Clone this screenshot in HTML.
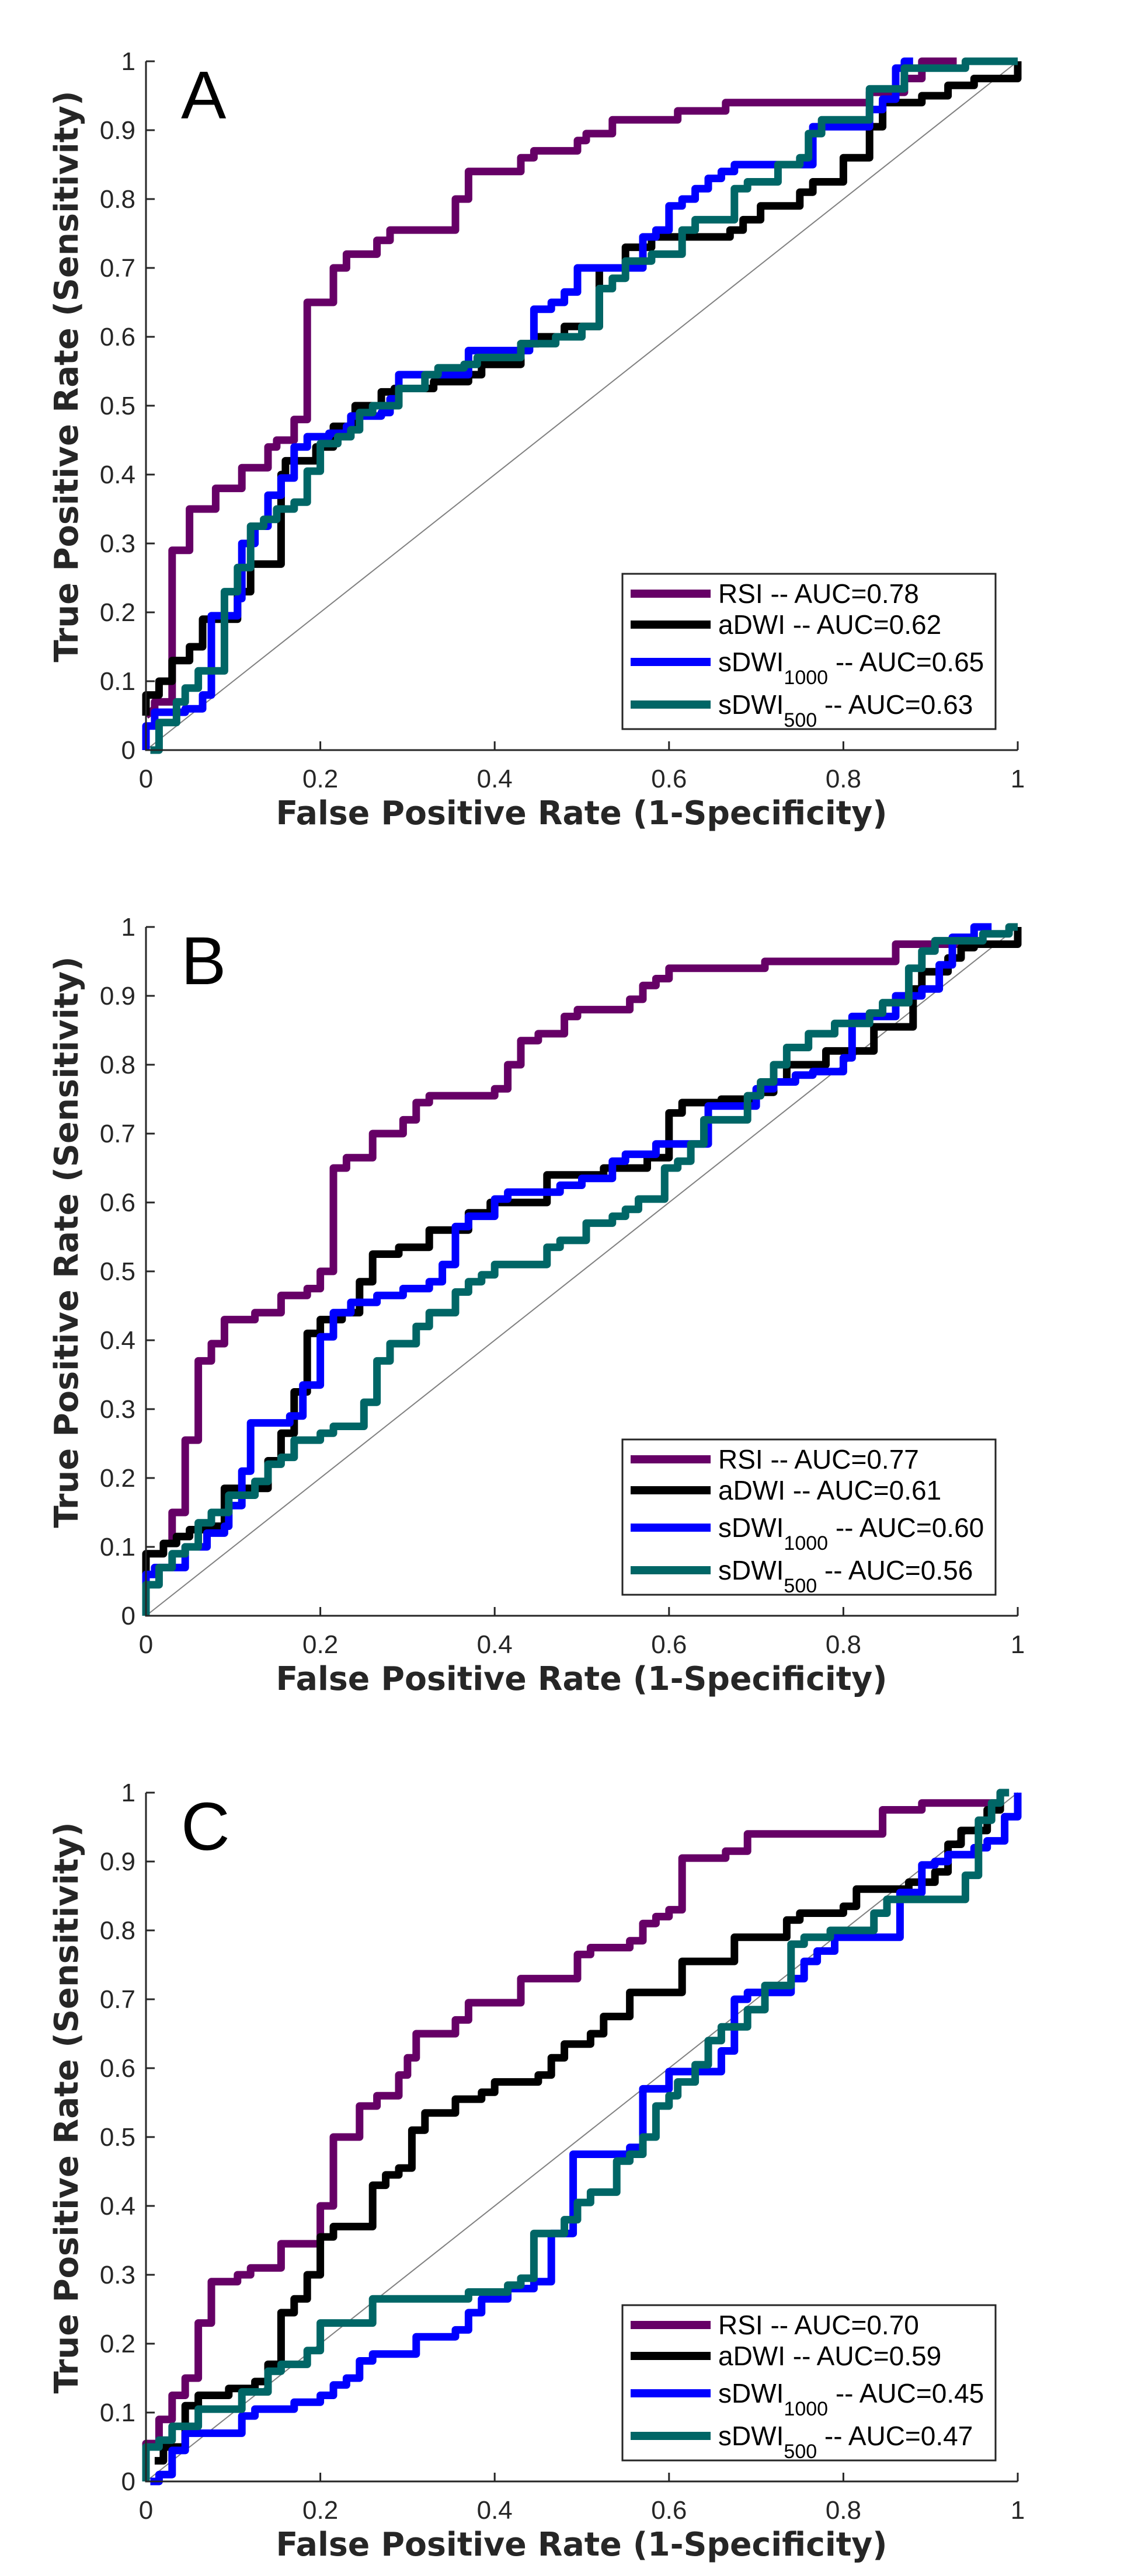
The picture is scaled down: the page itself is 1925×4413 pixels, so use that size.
<!DOCTYPE html>
<html><head><meta charset="utf-8"><style>
html,body{margin:0;padding:0;background:#fff}
svg{display:block}
</style></head><body>
<svg id="fig" width="1925" height="4413" viewBox="0 0 1925 4413" xmlns="http://www.w3.org/2000/svg"></svg>
<script>
const panelLetters = ["A","B","C"];
const seriesNames = ["RSI","aDWI","sDWI","sDWI"];
const seriesSubs = ["","","1000","500"];
const aucA = ["0.78","0.62","0.65","0.63"];
const aucB = ["0.77","0.61","0.60","0.56"];
const aucC = ["0.70","0.59","0.45","0.47"];
const yTicks = [0,0.1,0.2,0.3,0.4,0.5,0.6,0.7,0.8,0.9,1];
const yTickLabels = ["0","0.1","0.2","0.3","0.4","0.5","0.6","0.7","0.8","0.9","1"];
const xTicks = [0,0.2,0.4,0.6,0.8,1];
const xTickLabels = ["0","0.2","0.4","0.6","0.8","1"];

const aRSI = [[0,0.05],[0.01,0.06],[0.01,0.07],[0.03,0.07],[0.03,0.29],[0.05,0.29],[0.05,0.35],[0.08,0.35],[0.08,0.38],[0.11,0.38],[0.11,0.41],[0.14,0.41],[0.14,0.44],[0.15,0.44],[0.15,0.45],[0.17,0.45],[0.17,0.48],[0.185,0.48],[0.185,0.65],[0.215,0.65],[0.215,0.70],[0.23,0.70],[0.23,0.72],[0.265,0.72],[0.265,0.74],[0.28,0.74],[0.28,0.755],[0.355,0.755],[0.355,0.80],[0.37,0.80],[0.37,0.84],[0.43,0.84],[0.43,0.86],[0.445,0.86],[0.445,0.87],[0.495,0.87],[0.495,0.885],[0.505,0.885],[0.505,0.895],[0.535,0.895],[0.535,0.915],[0.61,0.915],[0.61,0.928],[0.665,0.928],[0.665,0.94],[0.83,0.94],[0.83,0.955],[0.87,0.955],[0.87,0.975],[0.89,0.975],[0.89,1],[0.93,1]];
const aADWI = [[0,0.05],[0,0.08],[0.015,0.08],[0.015,0.10],[0.03,0.10],[0.03,0.13],[0.05,0.13],[0.05,0.15],[0.065,0.15],[0.065,0.19],[0.105,0.19],[0.105,0.23],[0.12,0.23],[0.12,0.27],[0.155,0.27],[0.155,0.40],[0.16,0.40],[0.16,0.42],[0.195,0.42],[0.195,0.44],[0.215,0.44],[0.215,0.47],[0.24,0.47],[0.24,0.50],[0.27,0.50],[0.27,0.52],[0.285,0.52],[0.285,0.525],[0.33,0.525],[0.33,0.535],[0.37,0.535],[0.37,0.545],[0.385,0.545],[0.385,0.56],[0.43,0.56],[0.43,0.59],[0.45,0.59],[0.45,0.60],[0.48,0.60],[0.48,0.615],[0.52,0.615],[0.52,0.70],[0.55,0.70],[0.55,0.73],[0.58,0.73],[0.58,0.745],[0.67,0.745],[0.67,0.755],[0.685,0.755],[0.685,0.77],[0.705,0.77],[0.705,0.79],[0.75,0.79],[0.75,0.81],[0.765,0.81],[0.765,0.825],[0.8,0.825],[0.8,0.86],[0.83,0.86],[0.83,0.905],[0.845,0.905],[0.845,0.94],[0.89,0.94],[0.89,0.95],[0.92,0.95],[0.92,0.965],[0.95,0.965],[0.95,0.975],[1,0.975],[1,1]];
const aS1000 = [[0,0],[0,0.035],[0.01,0.035],[0.01,0.055],[0.045,0.055],[0.045,0.06],[0.065,0.06],[0.065,0.08],[0.075,0.08],[0.075,0.195],[0.105,0.195],[0.105,0.22],[0.11,0.22],[0.11,0.30],[0.125,0.30],[0.125,0.325],[0.14,0.325],[0.14,0.37],[0.155,0.37],[0.155,0.395],[0.17,0.395],[0.17,0.44],[0.185,0.44],[0.185,0.455],[0.21,0.455],[0.21,0.46],[0.23,0.46],[0.23,0.47],[0.235,0.47],[0.235,0.485],[0.27,0.485],[0.27,0.49],[0.28,0.49],[0.28,0.51],[0.29,0.51],[0.29,0.545],[0.37,0.545],[0.37,0.58],[0.44,0.58],[0.44,0.59],[0.445,0.59],[0.445,0.64],[0.465,0.64],[0.465,0.65],[0.48,0.65],[0.48,0.665],[0.495,0.665],[0.495,0.70],[0.57,0.70],[0.57,0.745],[0.585,0.745],[0.585,0.755],[0.6,0.755],[0.6,0.79],[0.615,0.79],[0.615,0.80],[0.63,0.80],[0.63,0.815],[0.645,0.815],[0.645,0.83],[0.66,0.83],[0.66,0.84],[0.675,0.84],[0.675,0.85],[0.765,0.85],[0.765,0.905],[0.83,0.905],[0.83,0.93],[0.845,0.93],[0.845,0.945],[0.86,0.945],[0.86,0.99],[0.87,0.99],[0.87,1],[0.88,1]];
const aS500 = [[0.005,0],[0.015,0],[0.015,0.04],[0.035,0.04],[0.035,0.07],[0.045,0.07],[0.045,0.09],[0.06,0.09],[0.06,0.115],[0.09,0.115],[0.09,0.23],[0.105,0.23],[0.105,0.265],[0.12,0.265],[0.12,0.325],[0.135,0.325],[0.135,0.335],[0.15,0.335],[0.15,0.35],[0.17,0.35],[0.17,0.36],[0.185,0.36],[0.185,0.405],[0.2,0.405],[0.2,0.445],[0.22,0.445],[0.22,0.455],[0.235,0.455],[0.235,0.465],[0.245,0.465],[0.245,0.49],[0.26,0.49],[0.26,0.50],[0.29,0.50],[0.29,0.525],[0.32,0.525],[0.32,0.545],[0.335,0.545],[0.335,0.555],[0.365,0.555],[0.365,0.56],[0.38,0.56],[0.38,0.57],[0.43,0.57],[0.43,0.59],[0.47,0.59],[0.47,0.60],[0.5,0.60],[0.5,0.615],[0.52,0.615],[0.52,0.67],[0.535,0.67],[0.535,0.685],[0.55,0.685],[0.55,0.71],[0.58,0.71],[0.58,0.72],[0.615,0.72],[0.615,0.755],[0.63,0.755],[0.63,0.77],[0.675,0.77],[0.675,0.815],[0.69,0.815],[0.69,0.825],[0.725,0.825],[0.725,0.85],[0.75,0.85],[0.75,0.86],[0.76,0.86],[0.76,0.895],[0.775,0.895],[0.775,0.915],[0.83,0.915],[0.83,0.96],[0.87,0.96],[0.87,0.99],[0.94,0.99],[0.94,1],[1,1]];

const bRSI = [[0.03,0.10],[0.03,0.15],[0.045,0.15],[0.045,0.255],[0.06,0.255],[0.06,0.37],[0.075,0.37],[0.075,0.395],[0.09,0.395],[0.09,0.43],[0.125,0.43],[0.125,0.44],[0.155,0.44],[0.155,0.465],[0.185,0.465],[0.185,0.475],[0.2,0.475],[0.2,0.50],[0.215,0.50],[0.215,0.65],[0.23,0.65],[0.23,0.665],[0.26,0.665],[0.26,0.70],[0.295,0.70],[0.295,0.72],[0.31,0.72],[0.31,0.745],[0.325,0.745],[0.325,0.755],[0.4,0.755],[0.4,0.765],[0.415,0.765],[0.415,0.80],[0.43,0.80],[0.43,0.835],[0.45,0.835],[0.45,0.845],[0.48,0.845],[0.48,0.87],[0.495,0.87],[0.495,0.88],[0.555,0.88],[0.555,0.895],[0.57,0.895],[0.57,0.915],[0.585,0.915],[0.585,0.925],[0.6,0.925],[0.6,0.94],[0.71,0.94],[0.71,0.95],[0.86,0.95],[0.86,0.975],[0.95,0.975]];
const bADWI = [[0,0.06],[0,0.09],[0.02,0.09],[0.02,0.105],[0.035,0.105],[0.035,0.115],[0.05,0.115],[0.05,0.125],[0.065,0.125],[0.065,0.13],[0.09,0.13],[0.09,0.185],[0.14,0.185],[0.14,0.225],[0.155,0.225],[0.155,0.265],[0.17,0.265],[0.17,0.325],[0.185,0.325],[0.185,0.41],[0.2,0.41],[0.2,0.43],[0.225,0.43],[0.225,0.44],[0.245,0.44],[0.245,0.485],[0.26,0.485],[0.26,0.525],[0.29,0.525],[0.29,0.535],[0.325,0.535],[0.325,0.56],[0.37,0.56],[0.37,0.585],[0.395,0.585],[0.395,0.60],[0.46,0.60],[0.46,0.64],[0.525,0.64],[0.525,0.65],[0.575,0.65],[0.575,0.665],[0.6,0.665],[0.6,0.73],[0.615,0.73],[0.615,0.745],[0.66,0.745],[0.66,0.75],[0.70,0.75],[0.70,0.76],[0.72,0.76],[0.72,0.775],[0.735,0.775],[0.735,0.8],[0.78,0.8],[0.78,0.82],[0.835,0.82],[0.835,0.855],[0.88,0.855],[0.88,0.91],[0.89,0.91],[0.89,0.935],[0.92,0.935],[0.92,0.955],[0.935,0.955],[0.935,0.97],[0.95,0.97],[0.95,0.975],[1,0.975],[1,1]];
const bS1000 = [[0,0],[0,0.06],[0.01,0.06],[0.01,0.07],[0.045,0.07],[0.045,0.10],[0.07,0.10],[0.07,0.12],[0.09,0.12],[0.09,0.13],[0.095,0.13],[0.095,0.16],[0.11,0.16],[0.11,0.21],[0.12,0.21],[0.12,0.28],[0.165,0.28],[0.165,0.29],[0.18,0.29],[0.18,0.335],[0.2,0.335],[0.2,0.405],[0.215,0.405],[0.215,0.44],[0.235,0.44],[0.235,0.455],[0.265,0.455],[0.265,0.465],[0.295,0.465],[0.295,0.475],[0.325,0.475],[0.325,0.485],[0.34,0.485],[0.34,0.51],[0.355,0.51],[0.355,0.565],[0.37,0.565],[0.37,0.58],[0.4,0.58],[0.4,0.605],[0.415,0.605],[0.415,0.615],[0.475,0.615],[0.475,0.625],[0.5,0.625],[0.5,0.635],[0.535,0.635],[0.535,0.66],[0.55,0.66],[0.55,0.67],[0.585,0.67],[0.585,0.685],[0.645,0.685],[0.645,0.74],[0.7,0.74],[0.7,0.765],[0.72,0.765],[0.72,0.775],[0.745,0.775],[0.745,0.785],[0.765,0.785],[0.765,0.79],[0.8,0.79],[0.8,0.81],[0.81,0.81],[0.81,0.87],[0.86,0.87],[0.86,0.9],[0.89,0.9],[0.89,0.91],[0.91,0.91],[0.91,0.945],[0.925,0.945],[0.925,0.985],[0.95,0.985],[0.95,1],[0.97,1]];
const bS500 = [[0,0],[0,0.045],[0.015,0.045],[0.015,0.07],[0.03,0.07],[0.03,0.09],[0.045,0.09],[0.045,0.10],[0.06,0.10],[0.06,0.135],[0.075,0.135],[0.075,0.15],[0.095,0.15],[0.095,0.175],[0.125,0.175],[0.125,0.195],[0.14,0.195],[0.14,0.22],[0.155,0.22],[0.155,0.23],[0.17,0.23],[0.17,0.255],[0.2,0.255],[0.2,0.265],[0.215,0.265],[0.215,0.275],[0.25,0.275],[0.25,0.31],[0.265,0.31],[0.265,0.37],[0.28,0.37],[0.28,0.395],[0.31,0.395],[0.31,0.42],[0.325,0.42],[0.325,0.44],[0.355,0.44],[0.355,0.47],[0.37,0.47],[0.37,0.485],[0.385,0.485],[0.385,0.495],[0.4,0.495],[0.4,0.51],[0.46,0.51],[0.46,0.535],[0.475,0.535],[0.475,0.545],[0.505,0.545],[0.505,0.57],[0.535,0.57],[0.535,0.58],[0.55,0.58],[0.55,0.59],[0.565,0.59],[0.565,0.605],[0.595,0.605],[0.595,0.65],[0.61,0.65],[0.61,0.66],[0.625,0.66],[0.625,0.685],[0.64,0.685],[0.64,0.72],[0.69,0.72],[0.69,0.755],[0.705,0.755],[0.705,0.775],[0.72,0.775],[0.72,0.80],[0.735,0.80],[0.735,0.825],[0.76,0.825],[0.76,0.845],[0.79,0.845],[0.79,0.86],[0.83,0.86],[0.83,0.875],[0.845,0.875],[0.845,0.89],[0.875,0.89],[0.875,0.94],[0.89,0.94],[0.89,0.965],[0.905,0.965],[0.905,0.98],[0.96,0.98],[0.96,0.99],[0.99,0.99],[0.99,1],[1,1]];

const cRSI = [[0,0.05],[0,0.055],[0.015,0.055],[0.015,0.09],[0.03,0.09],[0.03,0.125],[0.045,0.125],[0.045,0.15],[0.06,0.15],[0.06,0.23],[0.075,0.23],[0.075,0.29],[0.105,0.29],[0.105,0.30],[0.12,0.30],[0.12,0.31],[0.155,0.31],[0.155,0.345],[0.2,0.345],[0.2,0.40],[0.215,0.40],[0.215,0.50],[0.245,0.50],[0.245,0.545],[0.265,0.545],[0.265,0.56],[0.29,0.56],[0.29,0.59],[0.3,0.59],[0.3,0.615],[0.31,0.615],[0.31,0.65],[0.355,0.65],[0.355,0.67],[0.37,0.67],[0.37,0.695],[0.43,0.695],[0.43,0.73],[0.495,0.73],[0.495,0.765],[0.51,0.765],[0.51,0.775],[0.555,0.775],[0.555,0.785],[0.57,0.785],[0.57,0.81],[0.585,0.81],[0.585,0.82],[0.6,0.82],[0.6,0.83],[0.615,0.83],[0.615,0.905],[0.665,0.905],[0.665,0.915],[0.69,0.915],[0.69,0.94],[0.845,0.94],[0.845,0.975],[0.89,0.975],[0.89,0.985],[0.98,0.985]];
const cADWI = [[0.01,0.03],[0.02,0.03],[0.02,0.05],[0.045,0.05],[0.045,0.11],[0.06,0.11],[0.06,0.125],[0.095,0.125],[0.095,0.135],[0.125,0.135],[0.125,0.145],[0.14,0.145],[0.14,0.17],[0.155,0.17],[0.155,0.245],[0.17,0.245],[0.17,0.265],[0.185,0.265],[0.185,0.30],[0.2,0.30],[0.2,0.355],[0.215,0.355],[0.215,0.37],[0.26,0.37],[0.26,0.43],[0.275,0.43],[0.275,0.445],[0.29,0.445],[0.29,0.455],[0.305,0.455],[0.305,0.51],[0.32,0.51],[0.32,0.535],[0.355,0.535],[0.355,0.555],[0.385,0.555],[0.385,0.565],[0.4,0.565],[0.4,0.58],[0.45,0.58],[0.45,0.59],[0.465,0.59],[0.465,0.615],[0.48,0.615],[0.48,0.635],[0.51,0.635],[0.51,0.65],[0.525,0.65],[0.525,0.675],[0.555,0.675],[0.555,0.71],[0.615,0.71],[0.615,0.755],[0.675,0.755],[0.675,0.79],[0.735,0.79],[0.735,0.815],[0.75,0.815],[0.75,0.825],[0.8,0.825],[0.8,0.835],[0.815,0.835],[0.815,0.86],[0.875,0.86],[0.875,0.87],[0.905,0.87],[0.905,0.885],[0.92,0.885],[0.92,0.925],[0.935,0.925],[0.935,0.945],[0.965,0.945],[0.965,0.975],[0.98,0.975],[0.98,1],[0.99,1]];
const cS1000 = [[0.005,0],[0.015,0],[0.015,0.01],[0.03,0.01],[0.03,0.045],[0.045,0.045],[0.045,0.07],[0.11,0.07],[0.11,0.095],[0.125,0.095],[0.125,0.105],[0.17,0.105],[0.17,0.115],[0.2,0.115],[0.2,0.125],[0.215,0.125],[0.215,0.14],[0.23,0.14],[0.23,0.15],[0.245,0.15],[0.245,0.175],[0.26,0.175],[0.26,0.185],[0.31,0.185],[0.31,0.21],[0.355,0.21],[0.355,0.22],[0.37,0.22],[0.37,0.245],[0.385,0.245],[0.385,0.265],[0.415,0.265],[0.415,0.28],[0.445,0.28],[0.445,0.29],[0.465,0.29],[0.465,0.36],[0.49,0.36],[0.49,0.475],[0.555,0.475],[0.555,0.485],[0.57,0.485],[0.57,0.57],[0.6,0.57],[0.6,0.595],[0.66,0.595],[0.66,0.625],[0.675,0.625],[0.675,0.70],[0.69,0.70],[0.69,0.71],[0.74,0.71],[0.74,0.73],[0.755,0.73],[0.755,0.755],[0.77,0.755],[0.77,0.77],[0.79,0.77],[0.79,0.79],[0.865,0.79],[0.865,0.855],[0.89,0.855],[0.89,0.895],[0.905,0.895],[0.905,0.9],[0.92,0.9],[0.92,0.91],[0.95,0.91],[0.95,0.92],[0.965,0.92],[0.965,0.93],[0.985,0.93],[0.985,0.965],[1,0.965],[1,1]];
const cS500 = [[0,0],[0,0.05],[0.015,0.05],[0.015,0.06],[0.03,0.06],[0.03,0.08],[0.06,0.08],[0.06,0.105],[0.11,0.105],[0.11,0.13],[0.14,0.13],[0.14,0.16],[0.155,0.16],[0.155,0.17],[0.185,0.17],[0.185,0.19],[0.2,0.19],[0.2,0.23],[0.26,0.23],[0.26,0.265],[0.37,0.265],[0.37,0.275],[0.415,0.275],[0.415,0.285],[0.43,0.285],[0.43,0.295],[0.445,0.295],[0.445,0.36],[0.48,0.36],[0.48,0.38],[0.495,0.38],[0.495,0.405],[0.51,0.405],[0.51,0.42],[0.54,0.42],[0.54,0.465],[0.555,0.465],[0.555,0.475],[0.57,0.475],[0.57,0.50],[0.585,0.50],[0.585,0.545],[0.6,0.545],[0.6,0.56],[0.61,0.56],[0.61,0.58],[0.63,0.58],[0.63,0.605],[0.645,0.605],[0.645,0.64],[0.66,0.64],[0.66,0.66],[0.69,0.66],[0.69,0.685],[0.71,0.685],[0.71,0.72],[0.74,0.72],[0.74,0.78],[0.755,0.78],[0.755,0.79],[0.785,0.79],[0.785,0.80],[0.835,0.80],[0.835,0.825],[0.85,0.825],[0.85,0.845],[0.94,0.845],[0.94,0.88],[0.955,0.88],[0.955,0.96],[0.97,0.96],[0.97,0.985],[0.98,0.985],[0.98,1],[0.99,1]];

const NS = "http://www.w3.org/2000/svg";
const svg = document.getElementById('fig');
const X0 = 250, X1 = 1743, PH = 1180, TOPS = [105, 1588, 3071];
const colors = ["#660066","#000000","#0000ff","#006666"];
const seriesKeys = ["rsi","adwi","sdwi1000","sdwi500"];
const panelData = [[aRSI,aADWI,aS1000,aS500],[bRSI,bADWI,bS1000,bS500],[cRSI,cADWI,cS1000,cS500]];
const panelAuc = [aucA,aucB,aucC];

function mk(tag, attrs, parent){
  const e = document.createElementNS(NS, tag);
  for (const k in attrs) e.setAttribute(k, attrs[k]);
  parent.appendChild(e);
  return e;
}

panelData.forEach((series, p) => {
  const top = TOPS[p], bot = top + PH;
  const sx = v => X0 + v * (X1 - X0);
  const sy = v => bot - v * PH;
  const g = mk('g', {}, svg);
  
  

  const d = mk('line', {x1:sx(0), y1:sy(0), x2:sx(1), y2:sy(1), stroke:'#808080', 'stroke-width':2}, g);
  
  

  series.forEach((pts, i) => {
    const pl = mk('polyline', {points: pts.map(q => sx(q[0]).toFixed(1)+','+sy(q[1]).toFixed(1)).join(' '),
      fill:'none', stroke:colors[i], 'stroke-width':13, 'stroke-linejoin':'round', 'stroke-linecap':'butt'}, g);
    
    
  });

  const ax = mk('path', {d:`M${sx(0)},${sy(1)} L${sx(0)},${sy(0)} L${sx(1)},${sy(0)}`, fill:'none', stroke:'#262626', 'stroke-width':3}, g);
  
  
  yTicks.forEach((t, k) => {
    mk('line', {x1:sx(0), y1:sy(t), x2:sx(0)+15, y2:sy(t), stroke:'#262626', 'stroke-width':3}, g);
    const tl = mk('text', {x:232, y:sy(t)+15, 'text-anchor':'end', 'font-family':'Liberation Sans Narrow, Liberation Sans, sans-serif', 'font-size':44, fill:'#262626'}, g);
    tl.textContent = yTickLabels[k];
    
    
  });
  xTicks.forEach((t, k) => {
    mk('line', {x1:sx(t), y1:sy(0), x2:sx(t), y2:sy(0)-15, stroke:'#262626', 'stroke-width':3}, g);
    const tl = mk('text', {x:sx(t), y:bot+64, 'text-anchor':'middle', 'font-family':'Liberation Sans Narrow, Liberation Sans, sans-serif', 'font-size':44, fill:'#262626'}, g);
    tl.textContent = xTickLabels[k];
    
    
  });

  const xt = mk('text', {x:996, y:bot+127, 'text-anchor':'middle', 'font-family':'DejaVu Sans Condensed, DejaVu Sans, sans-serif', 'font-weight':'bold', 'font-size':56, fill:'#262626', textLength:1047, lengthAdjust:'spacingAndGlyphs'}, g);
  xt.textContent = 'False Positive Rate (1-Specificity)';
  
  
  const cy = top + PH/2 - 50;
  const yt = mk('text', {x:0, y:0, transform:`translate(133,${cy}) rotate(-90)`, 'text-anchor':'middle', 'font-family':'DejaVu Sans Condensed, DejaVu Sans, sans-serif', 'font-weight':'bold', 'font-size':56, fill:'#262626', textLength:979, lengthAdjust:'spacingAndGlyphs'}, g);
  yt.textContent = 'True Positive Rate (Sensitivity)';
  
  

  const pl = mk('text', {x:310, y:top+98, 'font-family':'Liberation Sans, sans-serif', 'font-size':116, fill:'#000'}, g);
  pl.textContent = panelLetters[p];
  
  

  const lg = mk('g', {}, g);
  
  
  mk('rect', {x:1066, y:bot-302, width:639, height:266, fill:'#fff', stroke:'#262626', 'stroke-width':3}, lg);
  const rowsY = [bot-268, bot-215, bot-151, bot-78];
  seriesNames.forEach((nm, i) => {
    const e = mk('g', {}, lg);
    
    
    mk('line', {x1:1080, y1:rowsY[i], x2:1217, y2:rowsY[i], stroke:colors[i], 'stroke-width':14}, e);
    const t = mk('text', {x:1230, y:rowsY[i]+16, 'font-family':'Liberation Sans, sans-serif', 'font-size':46, fill:'#000'}, e);
    t.appendChild(document.createTextNode(nm));
    if (seriesSubs[i]) {
      const s = mk('tspan', {dy:22, 'font-size':34}, t);
      s.textContent = seriesSubs[i];
      const r = mk('tspan', {dy:-22, 'font-size':46}, t);
      r.textContent = ' -- AUC=' + panelAuc[p][i];
    } else {
      t.appendChild(document.createTextNode(' -- AUC=' + panelAuc[p][i]));
    }
  });
});
</script>
</body></html>
